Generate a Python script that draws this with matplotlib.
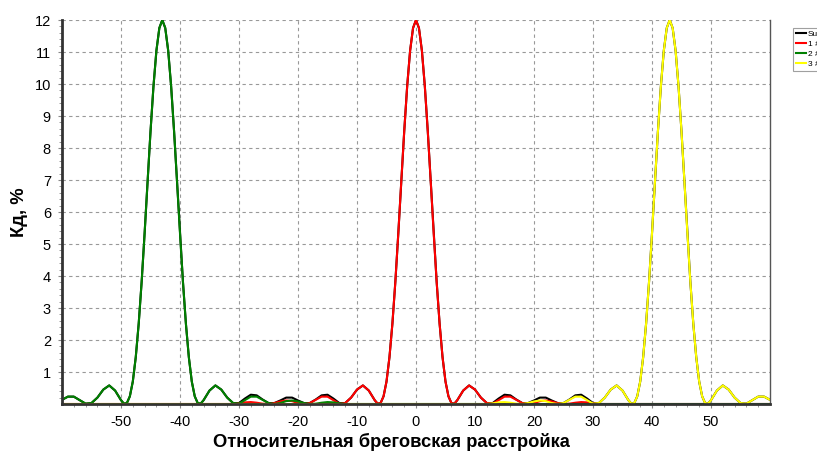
import matplotlib
matplotlib.use('Agg')
import matplotlib.pyplot as plt

# profile values (offsets from channel centre)
red_x = [-60, -31, -30, -29, -28, -27, -26, -25, -24, -23, -22, -21, -20, -19, -18,
         -17, -16, -15, -14, -13, -12, -11, -10, -9, -8, -7,
         -6.5, -6, -5.5, -5, -4.5, -4, -3.5, -3, -2.5, -2, -1.5, -1, -0.5, 0,
         0.5, 1, 1.5, 2, 2.5, 3, 3.5, 4, 4.5, 5, 5.5, 6, 6.5,
         7, 8, 9, 10, 11, 12, 13, 14, 15, 16, 17, 18, 19, 20, 21, 22, 23, 24,
         25, 26, 27, 28, 29, 30, 31, 60]
red_y = [0, 0.00, 0.02, 0.05, 0.06, 0.04, 0.01, 0.00, 0.03, 0.08, 0.11, 0.09, 0.03, 0.00, 0.03,
         0.13, 0.23, 0.23, 0.12, 0.01, 0.03, 0.20, 0.45, 0.58, 0.42, 0.12,
         0.01, 0.03, 0.24, 0.70, 1.46, 2.51, 3.82, 5.33, 6.94, 8.51, 9.92, 11.04, 11.75, 12.00,
         11.75, 11.04, 9.92, 8.51, 6.94, 5.33, 3.82, 2.51, 1.46, 0.70, 0.24, 0.03, 0.01,
         0.12, 0.42, 0.58, 0.45, 0.20, 0.03, 0.01, 0.12, 0.23, 0.23, 0.13, 0.03, 0.00, 0.03, 0.09, 0.11, 0.08, 0.03,
         0.00, 0.01, 0.04, 0.06, 0.05, 0.02, 0.00, 0]

green_x = [-60, -59, -58, -57, -56, -55, -54, -53, -52, -51, -50,
           -49.5, -49, -48.5, -48, -47.5, -47, -46.5, -46, -45.5, -45, -44.5, -44, -43.5, -43,
           -42.5, -42, -41.5, -41, -40.5, -40, -39.5, -39, -38.5, -38, -37.5, -37, -36.5,
           -36, -35, -34, -33, -32, -31, -30, -29, -28, -27, -26, -25, -24, -23, -22, -21,
           -20, -19, -18, -17, -16, -15, -14, -13, -12, 60]
green_y = [0.13, 0.23, 0.23, 0.12, 0.01, 0.03, 0.20, 0.45, 0.58, 0.42, 0.12,
           0.01, 0.03, 0.24, 0.70, 1.46, 2.51, 3.82, 5.33, 6.94, 8.51, 9.92, 11.04, 11.75, 12.00,
           11.75, 11.04, 9.92, 8.51, 6.94, 5.33, 3.82, 2.51, 1.46, 0.70, 0.24, 0.03, 0.01,
           0.12, 0.42, 0.58, 0.45, 0.20, 0.03, 0.01, 0.12, 0.23, 0.23, 0.13, 0.03, 0.00, 0.03, 0.09, 0.11,
           0.08, 0.03, 0.00, 0.01, 0.04, 0.06, 0.05, 0.02, 0.00, 0]

yellow_x = [-60, 12, 13, 14, 15, 16, 17, 18, 19, 20, 21, 22, 23, 24, 25, 26, 27, 28, 29, 30, 31,
            32, 33, 34, 35, 36, 36.5, 37, 37.5, 38, 38.5, 39, 39.5, 40, 40.5, 41, 41.5, 42, 42.5, 43,
            43.5, 44, 44.5, 45, 45.5, 46, 46.5, 47, 47.5, 48, 48.5, 49, 49.5,
            50, 51, 52, 53, 54, 55, 56, 57, 58, 59, 60]
yellow_y = [0, 0.00, 0.02, 0.05, 0.06, 0.04, 0.01, 0.00, 0.03, 0.08, 0.11, 0.09, 0.03, 0.00, 0.03, 0.13, 0.23, 0.23, 0.12, 0.01, 0.03,
            0.20, 0.45, 0.58, 0.42, 0.12, 0.01, 0.03, 0.24, 0.70, 1.46, 2.51, 3.82, 5.33, 6.94, 8.51, 9.92, 11.04, 11.75, 12.00,
            11.75, 11.04, 9.92, 8.51, 6.94, 5.33, 3.82, 2.51, 1.46, 0.70, 0.24, 0.03, 0.01,
            0.12, 0.42, 0.58, 0.45, 0.20, 0.03, 0.01, 0.12, 0.23, 0.23, 0.13]

sum_x = [-60, -59, -58, -57, -56, -55, -54, -53, -52, -51, -50,
         -49.5, -49, -48.5, -48, -47.5, -47, -46.5, -46, -45.5, -45, -44.5, -44, -43.5, -43,
         -42.5, -42, -41.5, -41, -40.5, -40, -39.5, -39, -38.5, -38, -37.5, -37, -36.5,
         -36, -35, -34, -33, -32, -31, -30, -29, -28, -27, -26, -25, -24, -23, -22, -21,
         -20, -19, -18, -17, -16, -15, -14, -13, -12, -11, -10, -9, -8, -7,
         -6.5, -6, -5.5, -5, -4.5, -4, -3.5, -3, -2.5, -2, -1.5, -1, -0.5, 0,
         0.5, 1, 1.5, 2, 2.5, 3, 3.5, 4, 4.5, 5, 5.5, 6, 6.5,
         7, 8, 9, 10, 11, 12, 13, 14, 15, 16, 17, 18, 19, 20, 21, 22, 23, 24, 25, 26, 27, 28, 29, 30,
         31, 32, 33, 34, 35, 36, 36.5, 37, 37.5, 38, 38.5, 39, 39.5, 40, 40.5, 41, 41.5, 42, 42.5, 43,
         43.5, 44, 44.5, 45, 45.5, 46, 46.5, 47, 47.5, 48, 48.5, 49, 49.5,
         50, 51, 52, 53, 54, 55, 56, 57, 58, 59, 60]
sum_y = [0.13, 0.23, 0.23, 0.12, 0.01, 0.03, 0.20, 0.45, 0.58, 0.42, 0.12,
         0.01, 0.03, 0.24, 0.70, 1.46, 2.51, 3.82, 5.33, 6.94, 8.51, 9.92, 11.04, 11.75, 12.00,
         11.75, 11.04, 9.92, 8.51, 6.94, 5.33, 3.82, 2.51, 1.46, 0.70, 0.24, 0.03, 0.01,
         0.12, 0.42, 0.58, 0.45, 0.20, 0.03, 0.03, 0.17, 0.29, 0.27, 0.14, 0.03, 0.03, 0.11, 0.20, 0.20,
         0.11, 0.03, 0.03, 0.14, 0.27, 0.29, 0.17, 0.03, 0.03, 0.20, 0.45, 0.58, 0.42, 0.12,
         0.01, 0.03, 0.24, 0.70, 1.46, 2.51, 3.82, 5.33, 6.94, 8.51, 9.92, 11.04, 11.75, 12.00,
         11.75, 11.04, 9.92, 8.51, 6.94, 5.33, 3.82, 2.51, 1.46, 0.70, 0.24, 0.03, 0.01,
         0.12, 0.42, 0.58, 0.45, 0.20, 0.03, 0.03, 0.17, 0.29, 0.27, 0.14, 0.03, 0.03, 0.11, 0.20, 0.20, 0.11, 0.03, 0.03, 0.14, 0.27, 0.29, 0.17, 0.03,
         0.03, 0.20, 0.45, 0.58, 0.42, 0.12, 0.01, 0.03, 0.24, 0.70, 1.46, 2.51, 3.82, 5.33, 6.94, 8.51, 9.92, 11.04, 11.75, 12.00,
         11.75, 11.04, 9.92, 8.51, 6.94, 5.33, 3.82, 2.51, 1.46, 0.70, 0.24, 0.03, 0.01,
         0.12, 0.42, 0.58, 0.45, 0.20, 0.03, 0.01, 0.12, 0.23, 0.23, 0.13]

x_ticks = [-50, -40, -30, -20, -10, 0, 10, 20, 30, 40, 50]
y_ticks = [1, 2, 3, 4, 5, 6, 7, 8, 9, 10, 11, 12]
labels = ['Sum', '1 #1', '2 #2', '3 #3']

plt.rcParams['font.family'] = ['Liberation Sans', 'DejaVu Sans']
plt.rcParams['axes.unicode_minus'] = False

fig = plt.figure(figsize=(8.17, 4.51), dpi=100)
ax = fig.add_axes([62/817, 47/451, 708/817, 384/451])

ax.plot(sum_x, sum_y, color='black', lw=1.5, label=labels[0])
ax.plot(red_x, red_y, color='#ff0000', lw=1.5, label=labels[1])
ax.plot(green_x, green_y, color='#008000', lw=1.5, label=labels[2])
ax.plot(yellow_x, yellow_y, color='#ffff00', lw=1.5, label=labels[3])

ax.set_xlim(-60, 60)
ax.set_ylim(0, 12)
ax.set_xticks(x_ticks)
ax.set_xticks(list(range(-58, 60, 2)), minor=True)
ax.set_yticks(y_ticks)
ax.set_yticks([i / 5 for i in range(1, 60)], minor=True)
ax.tick_params(axis='both', labelsize=10.5, length=3, color='#888888', pad=5)
ax.tick_params(axis='both', which='minor', length=2, color='#888888')
ax.grid(True, which='major', linestyle=(0, (3, 3)), color='#999999', lw=0.8)
ax.set_axisbelow(True)

for s in ['left', 'bottom']:
    ax.spines[s].set_color('#333333')
    ax.spines[s].set_linewidth(2)
ax.spines['top'].set_visible(False)
ax.spines['right'].set_color('#555555')
ax.spines['right'].set_linewidth(1)

ax.set_xlabel('Относительная бреговская расстройка', fontsize=13.2, fontweight='bold')
ax.xaxis.set_label_coords((391 - 62) / 708, -(433 - 404) / 384)
ax.set_ylabel('Кд, %', fontsize=13.2, fontweight='bold')
ax.yaxis.set_label_coords((28 - 62) / 708, 0.5)

leg = fig.legend(loc='upper left', bbox_to_anchor=(793/817, 1 - 28/451), fontsize=6,
                 frameon=True, fancybox=False, borderpad=0.3, handlelength=1.2,
                 handletextpad=0.3, labelspacing=0.25, borderaxespad=0)
leg.get_frame().set_edgecolor('#888888')
leg.get_frame().set_linewidth(0.8)

fig.savefig('out.png', dpi=100)
